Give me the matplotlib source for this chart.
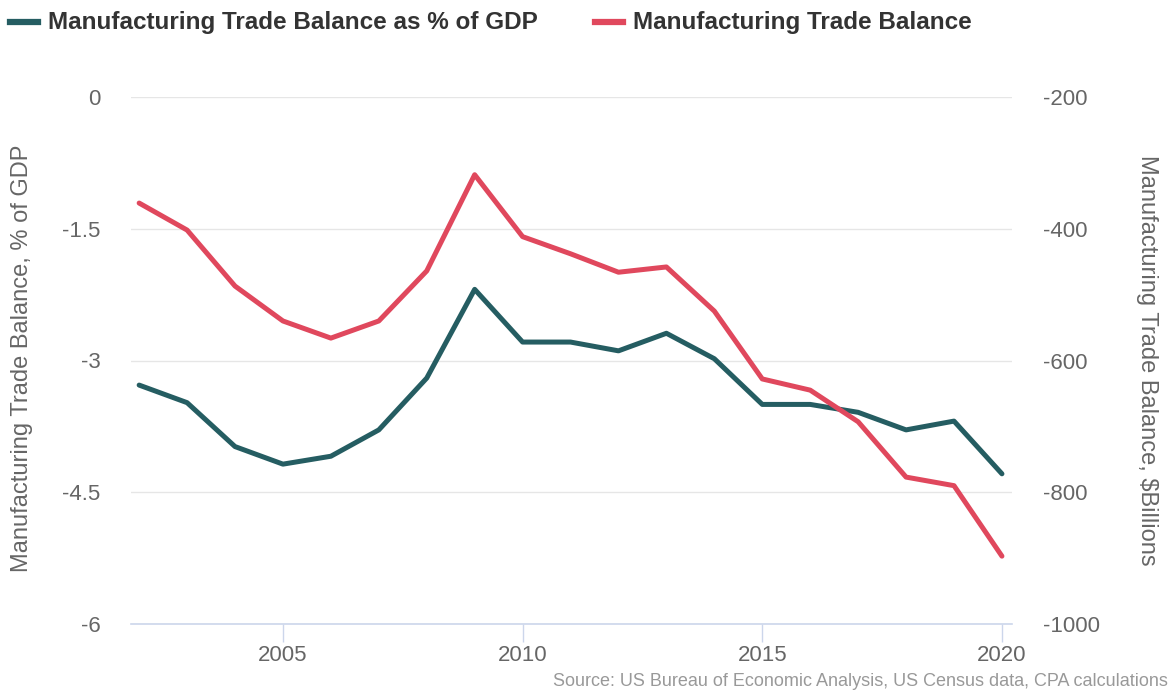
import matplotlib.pyplot as plt
from matplotlib.lines import Line2D

plt.rcParams['font.family'] = ['Liberation Sans', 'DejaVu Sans']
plt.rcParams['axes.unicode_minus'] = False

years = list(range(2002, 2021))
pct_gdp = [-3.28, -3.48, -3.98, -4.18, -4.09, -3.79, -3.20, -2.19, -2.79, -2.79,
           -2.89, -2.69, -2.98, -3.50, -3.50, -3.59, -3.79, -3.69, -4.29]
balance_bn = [-361, -402, -487, -540, -566, -540, -464, -318, -412, -438,
              -466, -458, -525, -628, -645, -693, -777, -790, -897]

left_ticks = [0, -1.5, -3, -4.5, -6]
left_labels = ['0', '-1.5', '-3', '-4.5', '-6']
right_ticks = [-200, -400, -600, -800, -1000]
x_ticks = [2005, 2010, 2015, 2020]

TEAL = '#255d62'
RED = '#e0485d'
GRID = '#e6e6e6'
AXIS = '#ccd6eb'
LABEL = '#666666'

W, H = 1169, 690
fig = plt.figure(figsize=(W/100, H/100), dpi=100)
ax = fig.add_axes([131/W, 1 - 624/H, (1012 - 131)/W, (624 - 97)/H])
ax2 = ax.twinx()

ax.plot(years, pct_gdp, color=TEAL, lw=3.6, solid_capstyle='round', zorder=3)
ax2.plot(years, balance_bn, color=RED, lw=3.6, solid_capstyle='round', zorder=3)

ax.set_xlim(2001.83, 2020.21)
ax.set_ylim(-6, 0)
ax2.set_ylim(-1000, -200)

ax.set_yticks(left_ticks)
ax.set_yticklabels(left_labels)
ax2.set_yticks(right_ticks)
ax.set_xticks(x_ticks)

ax.grid(axis='y', color=GRID, lw=1)
ax.set_axisbelow(True)
for a in (ax, ax2):
    for s in a.spines.values():
        s.set_visible(False)
ax.spines['bottom'].set_visible(True)
ax.spines['bottom'].set_color(AXIS)
ax.spines['bottom'].set_linewidth(1.2)

ax.tick_params(axis='x', colors=AXIS, length=13, width=1, pad=2, labelsize=16, labelcolor=LABEL)
ax.tick_params(axis='y', length=0, pad=22, labelsize=16, labelcolor=LABEL)
ax2.tick_params(axis='y', length=0, pad=22, labelsize=16, labelcolor=LABEL)

# axis titles
fig.text(22/W, 1 - 358/H, 'Manufacturing Trade Balance, % of GDP', fontsize=17, color=LABEL,
         rotation=90, ha='center', va='center')
fig.text(1147/W, 1 - 360/H, 'Manufacturing Trade Balance, $Billions', fontsize=17, color=LABEL,
         rotation=270, ha='center', va='center')

# legend at top
ly = 1 - 22/H
fig.add_artist(Line2D([10/W, 38/W], [ly, ly], color=TEAL, lw=4.5, transform=fig.transFigure))
fig.text(48/W, ly, 'Manufacturing Trade Balance as % of GDP', fontsize=17.5, fontweight='bold',
         color='#333333', va='center')
fig.add_artist(Line2D([595/W, 623/W], [ly, ly], color=RED, lw=4.5, transform=fig.transFigure))
fig.text(633/W, ly, 'Manufacturing Trade Balance', fontsize=17.5, fontweight='bold',
         color='#333333', va='center')

fig.text(1168/W, 1 - 681/H, 'Source: US Bureau of Economic Analysis, US Census data, CPA calculations',
         fontsize=13, color='#999999', ha='right', va='center')

fig.savefig('out.png', dpi=100)
